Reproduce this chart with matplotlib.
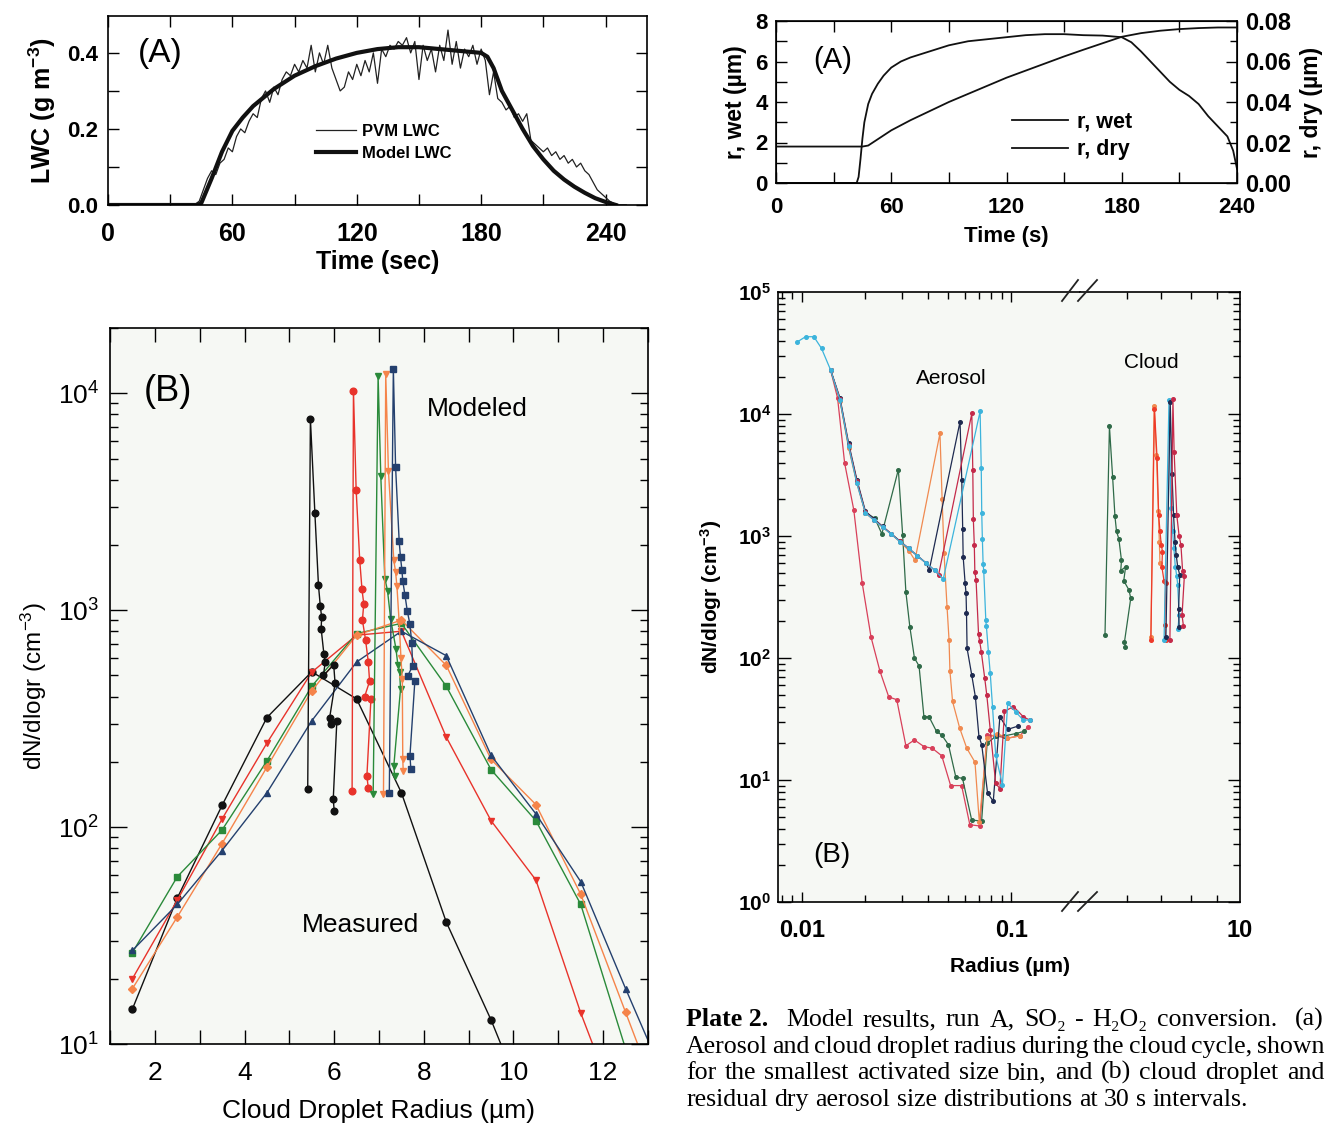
import matplotlib
matplotlib.use('Agg')
import matplotlib.pyplot as plt
from matplotlib.ticker import MultipleLocator, LogLocator, NullFormatter, FixedLocator, FuncFormatter
from matplotlib.lines import Line2D
import math

plt.rcParams['font.family'] = ['Liberation Sans', 'DejaVu Sans']
plt.rcParams['mathtext.fontset'] = 'custom'
plt.rcParams['mathtext.rm'] = 'Liberation Sans'
plt.rcParams['mathtext.bf'] = 'Liberation Sans:bold'
plt.rcParams['mathtext.it'] = 'Liberation Sans:italic'

# ---------------- (A) left: liquid water content ----------------
t_model = [0, 43, 45, 50, 55, 60, 65, 70, 80, 90, 100, 110, 120, 130, 140, 150, 160,
           170, 180, 183, 186, 190, 195, 200, 205, 210, 215, 220, 225, 230, 235, 240, 245]
lwc_model = [0, 0, 0.005, 0.07, 0.14, 0.195, 0.23, 0.26, 0.305, 0.34, 0.365, 0.385, 0.40,
             0.41, 0.415, 0.415, 0.41, 0.405, 0.40, 0.39, 0.36, 0.30, 0.25, 0.20, 0.155,
             0.12, 0.09, 0.067, 0.048, 0.032, 0.018, 0.008, 0.0]

t_pvm = [0, 40, 42, 44, 46, 48, 50, 52, 54, 56, 58, 60, 62, 64, 66, 68, 70, 72, 74, 76,
         78, 80, 82, 84, 86, 88, 90, 92, 94, 96, 98, 100, 102, 104, 106, 108, 110, 112,
         114, 116, 118, 120, 122, 124, 126, 128, 130, 132, 134, 136, 138, 140, 142, 144,
         146, 148, 150, 152, 154, 156, 158, 160, 162, 164, 166, 168, 170, 172, 174, 176,
         178, 180, 182, 184, 186, 188, 190, 192, 194, 196, 198, 200, 202, 204, 206, 208,
         210, 212, 214, 216, 218, 220, 222, 224, 226, 228, 230, 232, 234, 236, 238, 240,
         242, 244, 246, 250]
lwc_pvm = [0, 0, 0.002, 0.01, 0.04, 0.07, 0.09, 0.08, 0.11, 0.12, 0.15, 0.14, 0.18, 0.20,
           0.19, 0.22, 0.24, 0.23, 0.28, 0.30, 0.27, 0.31, 0.29, 0.33, 0.35, 0.34, 0.37,
           0.35, 0.38, 0.36, 0.42, 0.35, 0.40, 0.37, 0.42, 0.36, 0.33, 0.30, 0.31, 0.35,
           0.33, 0.37, 0.34, 0.38, 0.35, 0.40, 0.32, 0.41, 0.39, 0.42, 0.41, 0.43, 0.42,
           0.44, 0.40, 0.43, 0.33, 0.42, 0.38, 0.41, 0.35, 0.42, 0.38, 0.46, 0.37, 0.43,
           0.36, 0.41, 0.39, 0.42, 0.37, 0.41, 0.38, 0.29, 0.35, 0.28, 0.27, 0.25, 0.26,
           0.23, 0.24, 0.22, 0.24, 0.17, 0.16, 0.15, 0.14, 0.15, 0.13, 0.14, 0.12,
           0.13, 0.11, 0.12, 0.10, 0.11, 0.09, 0.08, 0.06, 0.04, 0.03, 0.02, 0.01, 0.004,
           0.0, 0.0]

# ---------------- (A) right: wet and dry radius of smallest activated bin ----------------
t_wet = [0, 42, 43, 44, 45, 46, 48, 50, 53, 56, 60, 65, 70, 80, 90, 100, 110, 120, 130, 140,
         150, 160, 170, 180, 185, 190, 195, 200, 205, 210, 215, 220, 225, 230, 235, 238, 240]
r_wet = [0, 0, 0.3, 1.2, 2.2, 3.0, 3.9, 4.4, 4.9, 5.3, 5.7, 6.0, 6.2, 6.5, 6.8, 7.0, 7.1,
         7.2, 7.3, 7.35, 7.35, 7.3, 7.28, 7.2, 6.95, 6.5, 6.0, 5.5, 5.0, 4.6, 4.3, 3.9,
         3.3, 2.8, 2.3, 1.6, 0.7]
t_dry = [0, 45, 48, 52, 56, 60, 70, 80, 90, 100, 110, 120, 130, 140, 150, 160, 170, 180,
         190, 200, 210, 220, 230, 240]
r_dry = [0.018, 0.018, 0.0185, 0.021, 0.0235, 0.026, 0.031, 0.0355, 0.040, 0.044, 0.048,
         0.052, 0.0555, 0.059, 0.0625, 0.0658, 0.069, 0.0722, 0.074, 0.0752, 0.076, 0.0765,
         0.0768, 0.0768]

# ---------------- (B) left: droplet spectra ----------------
r_meas = [1.5, 2.5, 3.5, 4.5, 5.5, 6.5, 7.5, 8.5, 9.5, 10.5, 11.5, 12.5, 13.5]
meas_black = [14.5, 47, 126, 320, 520, 390, 144, 36.5, 12.9, 4.0]
meas_red = [20, 46, 109, 244, 518, 767, 800, 260, 107, 57, 13.9, 4.0]
meas_green = [26.4, 59, 97, 202, 446, 780, 870, 446, 184, 107, 44, 9.5]
meas_orange = [18, 38.5, 84, 189, 425, 767, 900, 557, 205, 127, 49, 14, 4.0]
meas_blue = [27, 44, 78, 144, 309, 577, 800, 617, 214, 115, 56, 18, 6.0]

mod_black_r = [5.41, 5.47, 5.57, 5.65, 5.69, 5.72, 5.71, 5.77, 5.80, 5.76, 5.99, 6.02,
               5.90, 5.92, 6.06, 5.98, 6.00]
mod_black_n = [150, 7600, 2800, 1300, 1050, 930, 820, 630, 575, 500, 560, 460, 320, 300,
               310, 135, 119]
mod_red_r = [6.40, 6.43, 6.49, 6.57, 6.62, 6.66, 6.63, 6.70, 6.76, 6.79, 6.68, 6.82, 6.73, 6.76]
mod_red_n = [146, 10300, 3600, 1700, 1250, 1070, 900, 730, 580, 470, 400, 390, 172, 152]
mod_green_r = [6.87, 6.98, 7.04, 7.13, 7.19, 7.26, 7.38, 7.42, 7.46, 7.48, 7.33, 7.35]
mod_green_n = [142, 12000, 4150, 1400, 1230, 910, 660, 560, 517, 433, 191, 172]
mod_orange_r = [7.10, 7.15, 7.21, 7.33, 7.37, 7.40, 7.45, 7.49, 7.52, 7.53, 7.54]
mod_orange_n = [142, 12300, 4400, 1700, 1500, 1290, 880, 600, 480, 206, 182]
mod_blue_r = [7.23, 7.32, 7.37, 7.45, 7.48, 7.51, 7.53, 7.58, 7.63, 7.69, 7.73, 7.75,
              7.64, 7.80, 7.69, 7.71]
mod_blue_n = [143, 13000, 4570, 2080, 1750, 1540, 1365, 1170, 994, 861, 708, 553, 498,
              472, 213, 186]

# ---------------- (B) right: dry aerosol and cloud droplet spectra ----------------
aer_cyan_r = [0.0095, 0.0104, 0.0114, 0.0124, 0.0137, 0.0152, 0.0167, 0.0183, 0.0201,
              0.0221, 0.0243, 0.0268, 0.0294, 0.0324, 0.0356, 0.0392, 0.0431, 0.0474,
              0.0711, 0.0720, 0.0724, 0.0729, 0.0735, 0.0740, 0.0757, 0.0762, 0.0779,
              0.0795, 0.0815, 0.0844, 0.0909, 0.0964, 0.1054, 0.1144, 0.1226]
aer_cyan_n = [39000, 43000, 43000, 34500, 23000, 13000, 5500, 2700, 1550, 1350, 1180,
              1030, 900, 790, 690, 600, 525, 445, 10500, 3600, 1530, 940, 590, 520, 205,
              182, 113, 75, 40, 16, 9.1, 42.5, 36, 31, 31]
aer_navy_r = [0.0137, 0.0152, 0.0167, 0.0183, 0.0201, 0.0221, 0.0243, 0.0268, 0.0294,
              0.0324, 0.0356, 0.0392, 0.0406, 0.0570, 0.0581, 0.0587, 0.0590, 0.0603,
              0.0609, 0.0612, 0.0616, 0.0648, 0.0675, 0.0702, 0.0724, 0.0772, 0.0822,
              0.0884, 0.0964, 0.1075]
aer_navy_n = [23000, 13500, 5800, 2900, 1600, 1380, 1200, 1040, 910, 790, 690, 600, 525,
              8650, 2880, 1135, 676, 409, 339, 235, 120, 73, 48, 22.7, 19.4, 7.8, 6.7, 33,
              26, 27.6]
aer_crimson_r = [0.0137, 0.0152, 0.0167, 0.0183, 0.0201, 0.0221, 0.0243, 0.0268, 0.0294,
                 0.0324, 0.0356, 0.0392, 0.0431, 0.0450, 0.0649, 0.0656, 0.0660, 0.0667,
                 0.0671, 0.0680, 0.0699, 0.0708, 0.0720, 0.0748, 0.0765, 0.0795, 0.0844,
                 0.0884, 0.0930, 0.1027, 0.1144, 0.1226]
aer_crimson_n = [23000, 13200, 5600, 2800, 1560, 1360, 1190, 1035, 905, 790, 690, 600,
                 525, 480, 10100, 3470, 1370, 844, 509, 437, 156, 137, 113, 68.5, 50,
                 25.8, 9.4, 8.5, 36.5, 40, 33, 31]
aer_orange_r = [0.0137, 0.0152, 0.0167, 0.0183, 0.0201, 0.0221, 0.0243, 0.0268, 0.0294,
                0.0324, 0.0347, 0.0457, 0.0468, 0.0478, 0.0494, 0.0505, 0.0510, 0.0525,
                0.0568, 0.0614, 0.0672, 0.0705, 0.0768, 0.0860, 0.0960, 0.1100]
aer_orange_n = [23000, 12800, 5300, 2700, 1540, 1350, 1180, 1030, 900, 760, 633, 6950,
                2000, 720, 263, 141, 78, 44, 26.6, 18.2, 14, 4.5, 22, 24, 22, 23]
aer_green_r = [0.0137, 0.0152, 0.0167, 0.0183, 0.0201, 0.0223, 0.0241, 0.0289, 0.0303,
               0.0314, 0.0328, 0.0345, 0.0363, 0.0383, 0.0405, 0.0440, 0.0466, 0.0502,
               0.0544, 0.0586, 0.0648, 0.0723, 0.0768, 0.0850, 0.0930, 0.1050, 0.1150]
aer_green_n = [23000, 13000, 5500, 2800, 1550, 1400, 1040, 3500, 1020, 347, 180, 100, 86,
               33, 33, 25, 23.4, 19.4, 10.6, 10.3, 4.7, 4.6, 20, 23, 23, 24, 25]
aer_red_r = [0.0137, 0.0148, 0.0160, 0.0177, 0.0194, 0.0214, 0.0236, 0.0260, 0.0284,
             0.0314, 0.0345, 0.0383, 0.0420, 0.0466, 0.0514, 0.0580, 0.0635, 0.0708,
             0.0768, 0.0840, 0.0960, 0.1100, 0.1200]
aer_red_n = [23000, 13500, 3950, 1630, 414, 148, 78, 48, 45.5, 19.1, 21.3, 18.8, 18.2,
             15.8, 9.0, 9.0, 4.3, 4.2, 23.4, 23, 22, 23, 27]

cld_green_r = [5.44, 5.55, 5.63, 5.69, 5.73, 5.79, 5.86, 5.84, 5.97, 5.92, 6.06, 6.11, 5.94, 5.96]
cld_green_n = [155, 7900, 3050, 1450, 1090, 950, 630, 520, 560, 430, 361, 309, 136, 123]
cld_orange_r = [6.69, 6.79, 6.86, 6.92, 6.95, 6.97]
cld_orange_n = [148, 11600, 4600, 1600, 900, 600]
cld_red_r = [6.69, 6.80, 6.88, 6.93, 6.97, 7.01, 7.05, 7.03, 7.10, 7.15, 7.12, 7.15]
cld_red_n = [141, 11000, 4340, 1480, 1100, 850, 745, 560, 427, 410, 186, 141]
cld_cyan_r = [7.10, 7.26, 7.32, 7.38, 7.42, 7.47, 7.52, 7.55, 7.60, 7.56]
cld_cyan_n = [141, 13000, 1690, 1100, 800, 560, 467, 400, 224, 174]
cld_navy_r = [7.16, 7.30, 7.36, 7.41, 7.46, 7.50, 7.55, 7.62, 7.58, 7.60]
cld_navy_n = [150, 12500, 3200, 1500, 900, 700, 560, 480, 250, 180]
cld_crimson_r = [7.29, 7.39, 7.43, 7.52, 7.60, 7.66, 7.72, 7.78, 7.70, 7.75]
cld_crimson_n = [141, 13200, 4900, 1480, 1000, 850, 515, 467, 224, 182]

W, H = 1326, 1130
fig = plt.figure(figsize=(W / 100, H / 100), dpi=100)


def box(left, top, right, bottom):
    return [left / W, 1 - bottom / H, (right - left) / W, (bottom - top) / H]


def in_ticks(ax, major=7, minor=4):
    ax.tick_params(which='both', direction='in', top=True, right=True, width=1)
    ax.tick_params(which='major', length=major)
    ax.tick_params(which='minor', length=minor)
    for s in ax.spines.values():
        s.set_linewidth(1.2)


# ---- top left: LWC ----
ax1 = fig.add_axes(box(108, 16, 647, 205))
ax1.plot(t_pvm, lwc_pvm, color='#222222', lw=0.9, label='PVM LWC')
ax1.plot(t_model, lwc_model, color='#111111', lw=3.0, label='Model LWC')
ax1.set_xlim(0, 260)
ax1.set_ylim(0, 0.497)
ax1.xaxis.set_major_locator(FixedLocator([0, 60, 120, 180, 240]))
ax1.xaxis.set_minor_locator(FixedLocator([30, 90, 150, 210]))
ax1.yaxis.set_major_locator(FixedLocator([0.0, 0.2, 0.4]))
ax1.yaxis.set_minor_locator(FixedLocator([0.1, 0.3]))
ax1.yaxis.set_major_formatter(FuncFormatter(lambda v, p: '%.1f' % v))
in_ticks(ax1, 8, 8)
ax1.tick_params(axis='x', labelsize=18, pad=12)
ax1.tick_params(axis='y', labelsize=16, pad=7)
ax1.set_xlabel('Time (sec)', fontsize=18, fontweight='bold', labelpad=3)
ax1.set_ylabel(r'LWC (g m$^{\mathbf{-3}}$)', fontsize=18, fontweight='bold', labelpad=7)
ax1.text(0.097, 0.80, '(A)', transform=ax1.transAxes, fontsize=24, ha='center', va='center')
ax1.legend(loc='upper left', bbox_to_anchor=(0.37, 0.475), frameon=False,
           handlelength=2.4, handletextpad=0.4, labelspacing=0.45, borderpad=0,
           prop={'weight': 'bold', 'size': 12})

# ---- top right: r wet / r dry ----
ax2 = fig.add_axes(box(776, 21, 1237, 183))
ax2.plot(t_wet, r_wet, color='#111111', lw=1.3, label='r, wet')
ax2.set_xlim(0, 240)
ax2.set_ylim(0, 8)
ax2b = ax2.twinx()
ax2b.plot(t_dry, r_dry, color='#111111', lw=1.3, label='r, dry')
ax2b.set_ylim(0, 0.08)
ax2.xaxis.set_major_locator(FixedLocator([0, 60, 120, 180, 240]))
ax2.xaxis.set_minor_locator(FixedLocator([30, 90, 150, 210]))
ax2.yaxis.set_major_locator(MultipleLocator(2))
ax2.yaxis.set_minor_locator(MultipleLocator(1))
ax2b.yaxis.set_major_locator(MultipleLocator(0.02))
ax2b.yaxis.set_minor_locator(MultipleLocator(0.01))
ax2b.yaxis.set_major_formatter(FuncFormatter(lambda v, p: '%.2f' % v))
in_ticks(ax2, 8, 8)
ax2.tick_params(right=False, which='both')
ax2b.tick_params(which='both', direction='in', left=False, right=True, width=1)
ax2b.tick_params(which='major', length=8)
ax2b.tick_params(which='minor', length=5)
ax2.tick_params(axis='x', labelsize=16, pad=10)
ax2.tick_params(axis='y', labelsize=16, pad=6)
ax2b.tick_params(labelsize=17, pad=6)
ax2.set_xlabel('Time (s)', fontsize=16, fontweight='bold', labelpad=6)
ax2.set_ylabel('r, wet (µm)', fontsize=16.5, fontweight='bold', labelpad=6)
ax2b.set_ylabel('r, dry (µm)', fontsize=16.5, fontweight='bold', labelpad=6)
ax2.text(0.124, 0.76, '(A)', transform=ax2.transAxes, fontsize=21, ha='center', va='center')
hw = [Line2D([], [], color='#111111', lw=1.3), Line2D([], [], color='#111111', lw=1.3)]
ax2.legend(hw, ['r, wet', 'r, dry'], loc='upper left', bbox_to_anchor=(0.488, 0.505),
           frameon=False, handlelength=2.6, handletextpad=0.45, labelspacing=0.3,
           borderpad=0, prop={'weight': 'bold', 'size': 15.5})

# ---- bottom left: droplet spectra ----
panel_bg = '#f6f8f4'
ax3 = fig.add_axes(box(110, 328, 648, 1044))
ax3.set_facecolor(panel_bg)
c_blk, c_red, c_grn, c_org, c_blu = '#111111', '#e8332b', '#2a8a3a', '#f5844a', '#24406e'
meas = [(meas_black, c_blk, 'o'), (meas_red, c_red, 'v'), (meas_green, c_grn, 's'),
        (meas_orange, c_org, 'D'), (meas_blue, c_blu, '^')]
for vals, col, mk in meas:
    ax3.plot(r_meas[:len(vals)], vals, color=col, lw=1.0, marker=mk, ms=5 if mk != 'D' else 4.3,
             mec=col, mfc=col)
mods = [(mod_black_r, mod_black_n, c_blk, 'o'), (mod_red_r, mod_red_n, c_red, 'o'),
        (mod_green_r, mod_green_n, c_grn, 'v'), (mod_orange_r, mod_orange_n, c_org, 'v'),
        (mod_blue_r, mod_blue_n, c_blu, 's')]
for rr, nn, col, mk in mods:
    ax3.plot(rr, nn, color=col, lw=1.0, marker=mk, ms=4.8, mec=col, mfc=col)
ax3.set_yscale('log')
ax3.set_xlim(1, 13)
ax3.set_ylim(10, 2.0e4)
ax3.xaxis.set_major_locator(MultipleLocator(2))
ax3.xaxis.set_minor_locator(MultipleLocator(1))
ax3.yaxis.set_major_locator(LogLocator(base=10, numticks=10))
ax3.yaxis.set_minor_locator(LogLocator(base=10, subs=range(2, 10), numticks=10))
ax3.yaxis.set_minor_formatter(NullFormatter())
ax3.yaxis.set_major_formatter(FuncFormatter(lambda v, p: r'$\mathrm{10^{%d}}$' % round(math.log10(v))))
in_ticks(ax3, 12, 6)
ax3.tick_params(axis='x', which='both', length=10)
ax3.tick_params(axis='x', labelsize=19, pad=12)
ax3.tick_params(axis='y', labelsize=19, pad=8)
ax3.set_xlabel('Cloud Droplet Radius (µm)', fontsize=19, labelpad=10)
ax3.set_ylabel(r'dN/dlogr (cm$^{-3}$)', fontsize=17.5, labelpad=6)
ax3.text(0.108, 0.911, '(B)', transform=ax3.transAxes, fontsize=26, ha='center', va='center')
ax3.text(0.682, 0.887, 'Modeled', transform=ax3.transAxes, fontsize=19, ha='center', va='center')
ax3.text(0.465, 0.166, 'Measured', transform=ax3.transAxes, fontsize=19, ha='center', va='center')

# ---- bottom right: aerosol / cloud spectra on a broken radius axis ----
ax4 = fig.add_axes(box(778, 292, 1080, 902))
ax5 = fig.add_axes(box(1080, 292, 1240, 902))
for a in (ax4, ax5):
    a.set_facecolor(panel_bg)
    a.set_xscale('log')
    a.set_yscale('log')
    a.set_ylim(1, 1e5)
ax4.set_xlim(0.00768, 0.2136)
ax5.set_xlim(4.86, 10)
ax4.spines['right'].set_visible(False)
ax5.spines['left'].set_visible(False)

k_cyan, k_navy, k_crim, k_org, k_grn, k_red = ('#3cb4dc', '#1e2a50', '#c42a4a',
                                              '#f08a50', '#2f6a48', '#d8405a')
aer = [(aer_red_r, aer_red_n, k_red), (aer_green_r, aer_green_n, k_grn),
       (aer_orange_r, aer_orange_n, k_org), (aer_navy_r, aer_navy_n, k_navy),
       (aer_crimson_r, aer_crimson_n, k_crim), (aer_cyan_r, aer_cyan_n, k_cyan)]
for rr, nn, col in aer:
    ax4.plot(rr, nn, color=col, lw=0.9, marker='o', ms=2.6, mec=col, mfc=col)
cld = [(cld_green_r, cld_green_n, k_grn), (cld_orange_r, cld_orange_n, k_org),
       (cld_red_r, cld_red_n, '#ee3a2a'), (cld_cyan_r, cld_cyan_n, k_cyan),
       (cld_navy_r, cld_navy_n, k_navy), (cld_crimson_r, cld_crimson_n, k_crim)]
for rr, nn, col in cld:
    ax5.plot(rr, nn, color=col, lw=0.9, marker='o', ms=2.6, mec=col, mfc=col)

dec_fmt = FuncFormatter(lambda v, p: r'$\mathbf{10^{%d}}$' % round(math.log10(v)))
ax4.yaxis.set_major_locator(LogLocator(base=10, numticks=10))
ax4.yaxis.set_minor_locator(LogLocator(base=10, subs=range(2, 10), numticks=10))
ax4.yaxis.set_major_formatter(dec_fmt)
ax4.yaxis.set_minor_formatter(NullFormatter())
ax4.xaxis.set_major_locator(FixedLocator([0.01, 0.1]))
ax4.xaxis.set_minor_locator(FixedLocator([0.008, 0.009, 0.02, 0.03, 0.04, 0.05, 0.06,
                                          0.07, 0.08, 0.09]))
ax4.xaxis.set_major_formatter(FuncFormatter(lambda v, p: '%g' % v))
ax4.xaxis.set_minor_formatter(NullFormatter())
ax5.yaxis.set_major_locator(LogLocator(base=10, numticks=10))
ax5.yaxis.set_minor_locator(LogLocator(base=10, subs=range(2, 10), numticks=10))
ax5.yaxis.set_major_formatter(NullFormatter())
ax5.yaxis.set_minor_formatter(NullFormatter())
ax5.xaxis.set_major_locator(FixedLocator([10]))
ax5.xaxis.set_minor_locator(FixedLocator([6, 7, 8, 9]))
ax5.xaxis.set_major_formatter(FuncFormatter(lambda v, p: '%g' % v))
ax5.xaxis.set_minor_formatter(NullFormatter())
for a in (ax4, ax5):
    a.tick_params(which='both', direction='in', top=True, width=1)
    a.tick_params(which='major', length=9)
    a.tick_params(which='minor', length=5)
    for s in a.spines.values():
        s.set_linewidth(1.2)
ax4.tick_params(which='both', left=True, right=False)
ax5.tick_params(which='both', left=False, right=True, labelleft=False)
ax4.tick_params(axis='x', which='major', length=7)
ax5.tick_params(axis='x', which='major', length=0)
ax4.tick_params(axis='y', labelsize=15, pad=5)
ax4.tick_params(axis='x', labelsize=17, pad=12)
ax5.tick_params(axis='x', labelsize=17, pad=12)
ax4.set_ylabel(r'dN/dlogr (cm$^{\mathbf{-3}}$)', fontsize=15, fontweight='bold', labelpad=10)
fig.text(1010 / W, 1 - 967 / H, 'Radius (µm)', fontsize=15, fontweight='bold',
         ha='center', va='center')
ax4.text(0.18, 0.077, '(B)', transform=ax4.transAxes, fontsize=20, ha='center', va='center')
ax4.text(0.573, 0.859, 'Aerosol', transform=ax4.transAxes, fontsize=15, ha='center', va='center')
ax5.text(0.444, 0.885, 'Cloud', transform=ax5.transAxes, fontsize=15, ha='center', va='center')

# break marks on the radius axis
for y0, y1 in ((911, 892), (301, 280)):
    for xa, xb in ((1062, 1078), (1078, 1097)):
        fig.add_artist(Line2D([xa / W, xb / W], [1 - y0 / H, 1 - y1 / H],
                              color='#222222', lw=1.3))

# ---- caption (justified block, last line ragged) ----
cap_font = ['Liberation Serif', 'DejaVu Serif']
cap_lines = [
    (['Plate 2.', 'Model', 'results,', 'run', 'A,', 'SO₂', '-', 'H₂O₂', 'conversion.', '(a)'], True),
    (['Aerosol', 'and', 'cloud', 'droplet', 'radius', 'during', 'the', 'cloud', 'cycle,', 'shown'], True),
    (['for', 'the', 'smallest', 'activated', 'size', 'bin,', 'and', '(b)', 'cloud', 'droplet', 'and'], True),
    (['residual', 'dry', 'aerosol', 'size', 'distributions', 'at', '30', 's', 'intervals.'], False),
]
cap_base = [1026, 1053, 1079, 1106]
x_left, x_right, last_right = 686, 1324, 1250
renderer = fig.canvas.get_renderer()

probe = fig.text(0, 0, ' '.join(cap_lines[-1][0]), fontsize=10, family=cap_font)
cap_size = 10 * (last_right - x_left) / probe.get_window_extent(renderer).width
probe.remove()
t_a = fig.text(0, 0, 'a a', fontsize=cap_size, family=cap_font)
t_b = fig.text(0, 0, 'aa', fontsize=cap_size, family=cap_font)
space = t_a.get_window_extent(renderer).width - t_b.get_window_extent(renderer).width
t_a.remove()
t_b.remove()
for (words, justify), yb in zip(cap_lines, cap_base):
    texts = []
    for w in words:
        bold = w == 'Plate 2.'
        texts.append(fig.text(0, 1 - yb / H, w, fontsize=cap_size, family=cap_font,
                              fontweight='bold' if bold else 'normal', va='baseline'))
    widths = [t.get_window_extent(renderer).width for t in texts]
    weights = [2.0 if w.endswith('.') else 1.0 for w in words[:-1]]
    if justify:
        unit = (x_right - x_left - sum(widths)) / sum(weights)
    else:
        unit = space
    x = x_left
    for i, (t, wd) in enumerate(zip(texts, widths)):
        t.set_x(x / W)
        if i < len(weights):
            x += wd + unit * weights[i]

fig.canvas.draw()
for a in (ax1, ax2, ax2b, ax4, ax5):
    for lbl in a.get_xticklabels() + a.get_yticklabels():
        lbl.set_fontweight('bold')

fig.savefig('out.png', dpi=100, facecolor='white')
